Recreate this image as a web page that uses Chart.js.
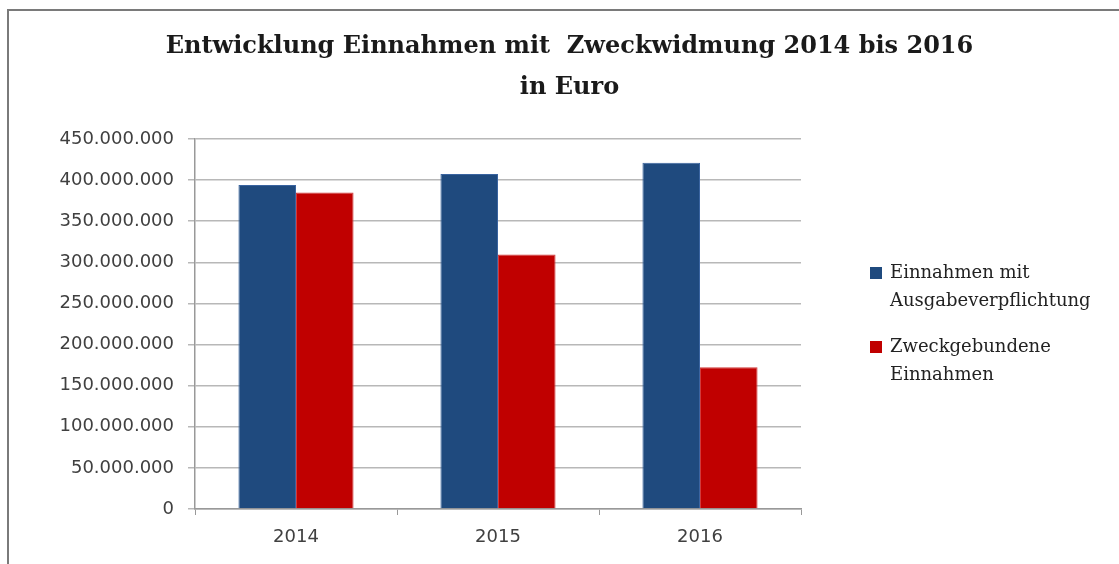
<!DOCTYPE html>
<html>
<head>
<meta charset="utf-8">
<script src="https://cdn.jsdelivr.net/npm/chart.js@4/dist/chart.umd.min.js"></script>
<style>
  html, body { margin: 0; padding: 0; background: #fff; }
  #frame { position: absolute; left: 7px; top: 9px; width: 1200px; height: 700px;
           border-left: 2px solid #7a7a7a; border-top: 2px solid #7a7a7a; }
  #wrap { position: absolute; left: 0; top: 0; width: 1119px; height: 564px; }
</style>
</head>
<body>
<div id="frame"></div>
<div id="wrap"><canvas id="chart"></canvas></div>
<script>
const years = ['2014', '2015', '2016'];
const ausgabeverpflichtung = [394000000, 407500000, 421000000];
const zweckgebunden = [385000000, 309500000, 172500000];
const seriesNames = [['Einnahmen mit', 'Ausgabeverpflichtung'], ['Zweckgebundene', 'Einnahmen']];
const seriesColors = ['#1f4a7e', '#c00000'];
const titleLines = ['Entwicklung Einnahmen mit  Zweckwidmung 2014 bis 2016', 'in Euro'];

function formatDe(v) {
  return String(v).replace(/\B(?=(\d{3})+(?!\d))/g, '.');
}

// title centred on the whole canvas, not just the plot + axes box
const wideTitle = {
  id: 'wideTitle',
  afterDraw(chart) {
    const ctx = chart.ctx;
    ctx.save();
    ctx.font = 'bold 24px "DejaVu Serif"';
    ctx.fillStyle = '#1a1a1a';
    ctx.textAlign = 'center';
    ctx.textBaseline = 'middle';
    titleLines.forEach((t, i) => ctx.fillText(t, chart.width / 2 + 10, 47 + i * 41));
    ctx.restore();
  }
};

// legend drawn by hand so the labels can wrap onto two lines
const sideLegend = {
  id: 'sideLegend',
  afterDraw(chart) {
    const ctx = chart.ctx;
    const area = chart.chartArea;
    const x = area.right + 69;
    const lineH = 28;
    const gap = 18;
    const total = seriesNames.reduce((s, n) => s + n.length * lineH, 0) + gap * (seriesNames.length - 1);
    let y = (area.top + area.bottom) / 2 - total / 2;
    ctx.save();
    ctx.font = '18px "DejaVu Serif"';
    ctx.textBaseline = 'middle';
    seriesNames.forEach((lines, i) => {
      ctx.fillStyle = seriesColors[i];
      ctx.fillRect(x, y + lineH / 2 - 6, 12, 12);
      ctx.fillStyle = '#222';
      lines.forEach((t, j) => {
        ctx.fillText(t, x + 20, y + lineH / 2 + j * lineH);
      });
      y += lines.length * lineH + gap;
    });
    ctx.restore();
  }
};

new Chart(document.getElementById('chart'), {
  type: 'bar',
  data: {
    labels: years,
    datasets: [
      { label: seriesNames[0].join(' '), data: ausgabeverpflichtung, backgroundColor: seriesColors[0],
        borderColor: '#3a64a0', borderWidth: 1, categoryPercentage: 0.57, barPercentage: 1 },
      { label: seriesNames[1].join(' '), data: zweckgebunden, backgroundColor: seriesColors[1],
        borderColor: '#d23a3a', borderWidth: 1, categoryPercentage: 0.57, barPercentage: 1 }
    ]
  },
  plugins: [wideTitle, sideLegend],
  options: {
    responsive: true,
    maintainAspectRatio: false,
    animation: false,
    layout: { padding: { left: 0, right: 318, top: 139, bottom: 0 } },
    plugins: {
      legend: { display: false },
      tooltip: { enabled: false },
      title: { display: false }
    },
    scales: {
      x: {
        offset: true,
        grid: { drawOnChartArea: false, drawTicks: true, tickLength: 6, color: '#999', offset: true },
        border: { color: '#999', width: 1.5 },
        ticks: { color: '#404040', padding: 12, font: { family: '"DejaVu Sans"', size: 18 } },
        afterFit(scale) { scale.height = 55; }
      },
      y: {
        min: 0,
        max: 450000000,
        grid: { color: '#b8b8b8', lineWidth: 1.5, tickLength: 7 },
        border: { color: '#999', width: 1.5 },
        ticks: {
          stepSize: 50000000,
          color: '#404040',
          padding: 14,
          font: { family: '"DejaVu Sans"', size: 18 },
          callback: v => formatDe(v)
        },
        afterFit(scale) { scale.width = 195; }
      }
    }
  }
});
</script>
</body>
</html>
